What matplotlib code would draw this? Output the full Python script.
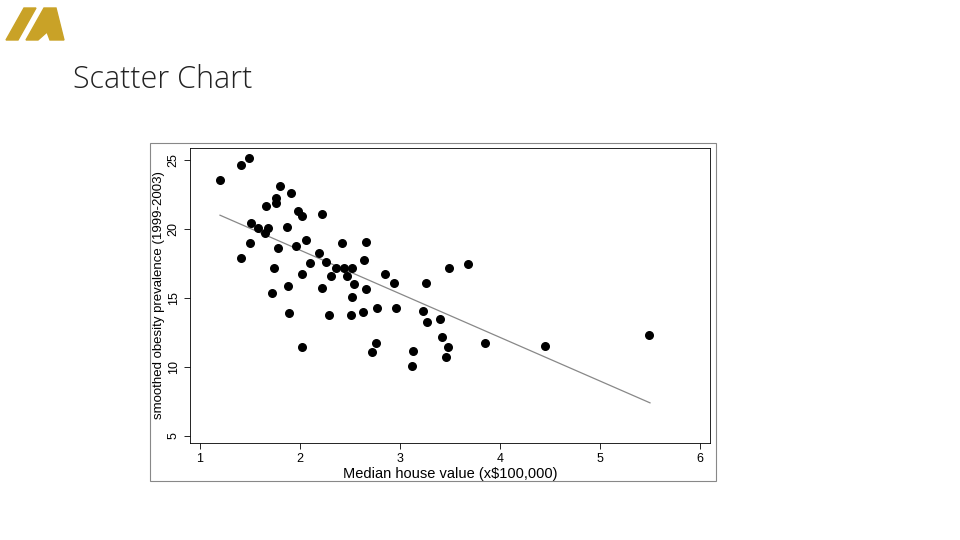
import matplotlib
matplotlib.use("Agg")
import matplotlib.pyplot as plt
from matplotlib.patches import Rectangle, Polygon

house_value = [1.20,1.41,1.49,1.80,1.91,1.76,1.76,1.66,1.98,2.02,2.22,1.87,1.51,1.58,1.68,1.65,2.06,1.50,1.96,2.19,
               1.41,2.42,2.66,1.78,2.26,2.10,2.36,2.44,1.74,2.52,2.02,2.31,2.47,2.64,2.85,2.94,3.26,3.49,3.68,1.88,
               2.22,2.54,2.66,1.72,2.52,2.96,2.77,3.23,3.40,3.27,1.89,2.29,2.51,2.63,3.42,2.76,3.48,3.85,4.45,5.49,
               2.02,2.72,3.13,3.46,3.12]
obesity = [23.55,24.64,25.14,23.12,22.61,22.25,21.88,21.67,21.30,20.94,21.09,20.14,20.43,20.07,20.07,19.71,19.20,18.99,18.77,18.26,
           17.90,18.99,19.06,18.62,17.61,17.54,17.17,17.17,17.17,17.17,16.74,16.59,16.59,17.75,16.74,16.09,16.09,17.17,17.46,15.87,
           15.72,16.01,15.65,15.36,15.07,14.28,14.28,14.06,13.48,13.26,13.91,13.77,13.77,13.99,12.17,11.74,11.45,11.74,11.52,12.32,
           11.45,11.09,11.16,10.72,10.07]
fit_x = [1.2, 5.5]
fit_y = [21.0, 7.4]
xticks = [1, 2, 3, 4, 5, 6]
yticks = [5, 10, 15, 20, 25]

fig = plt.figure(figsize=(9.6, 5.4), dpi=100)
W, H = 960, 540
def fx(px): return px / W
def fy(py): return 1 - py / H

gold = "#C9A227"
fig.patches.append(Polygon([[fx(6), fy(40)], [fx(24), fy(8)], [fx(36), fy(8)], [fx(18), fy(40)]],
                           closed=True, color=gold, transform=fig.transFigure))
fig.patches.append(Polygon([[fx(26), fy(40)], [fx(44), fy(8)], [fx(56), fy(8)], [fx(64), fy(40)], [fx(50), fy(40)], [fx(47), fy(32)], [fx(38), fy(40)]],
                           closed=True, color=gold, transform=fig.transFigure))
fig.text(fx(73), fy(80), "Scatter Chart", fontsize=22, family="Open Sans", weight="light",
         va="center", ha="left", color="#222222")

fig.patches.append(Rectangle((fx(150), fy(481)), (716-150)/W, (481-143)/H, fill=False,
                             edgecolor="#888888", lw=0.8, transform=fig.transFigure))

ax = fig.add_axes([fx(190), fy(443), (710-190)/W, (443-148)/H])
ax.scatter(house_value, obesity, s=30, color="black", zorder=3)
ax.plot(fit_x, fit_y, color="#888888", lw=0.9)
ax.set_xlim(0.9, 6.1)
ax.set_ylim(4.49, 25.87)
ax.set_xticks(xticks)
ax.set_yticks(yticks)
ax.tick_params(labelsize=9, direction="out", length=4, width=0.6)
for lab in ax.get_xticklabels() + ax.get_yticklabels():
    lab.set_family("Liberation Sans")
for lab in ax.get_yticklabels():
    lab.set_rotation(90); lab.set_va("center")
ax.set_xlabel("Median house value (x$100,000)", fontsize=10.5, labelpad=1, family="Liberation Sans")
ax.set_ylabel("smoothed obesity prevalence (1999-2003)", fontsize=9.5, labelpad=2, family="Liberation Sans")
for s in ax.spines.values():
    s.set_linewidth(0.6)

fig.savefig("out.png", dpi=100)
